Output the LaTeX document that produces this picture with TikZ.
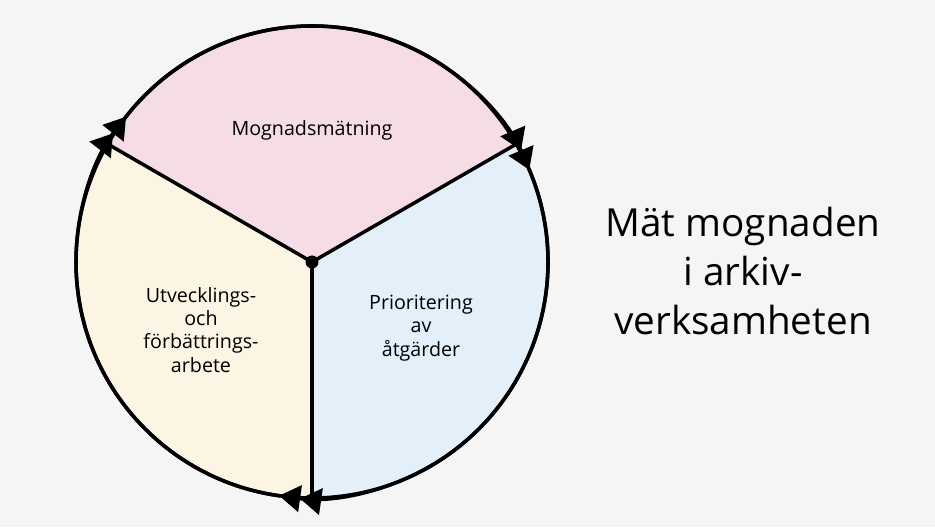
\documentclass[tikz,border=0pt]{standalone}
\usepackage{fontspec}
\setmainfont{Open Sans}
\usepackage{tikz}
\usetikzlibrary{arrows.meta,calc}
\definecolor{bakgrund}{HTML}{F5F5F5}
\definecolor{rosa}{HTML}{F6DDE5}
\definecolor{ljusbla}{HTML}{E3EFF9}
\definecolor{kram}{HTML}{FDF5E3}

\begin{document}
\begin{tikzpicture}[x=0.02cm,y=0.02cm,
  kant/.style={line width=2pt},
  pil/.style={kant,-{Triangle[length=12pt,width=15pt]Triangle[length=12pt,width=15pt]}},
  etikett/.style={align=center,font=\fontsize{11.2}{13.2}\selectfont}]
\useasboundingbox (0,0) rectangle (935,527);
\fill[bakgrund] (0,0) rectangle (935,527);
\def\r{236}
\coordinate (m) at (312,265);
\coordinate (a) at ($(m)+(150:\r)$);
\coordinate (b) at ($(m)+(30:\r)$);
\coordinate (c) at ($(m)+(270:\r)$);
% sektorer
\fill[rosa] (m) -- (a) arc[start angle=150,end angle=30,radius=\r] -- cycle;
\fill[ljusbla] (m) -- (b) arc[start angle=30,end angle=-90,radius=\r] -- cycle;
\fill[kram] (m) -- (c) arc[start angle=270,end angle=150,radius=\r] -- cycle;
\draw[kant] (m) circle[radius=\r];
\draw[kant] (m) -- (a);
\draw[kant] (m) -- (b);
\draw[kant] (m) -- (c);
\fill (m) circle[radius=6.5];
% pilar
\draw[pil] (c) arc[start angle=270,end angle=142,radius=\r];
\draw[pil] (a) arc[start angle=150,end angle=23,radius=\r];
\draw[pil] (b) arc[start angle=30,end angle=-98,radius=\r];
\node[etikett] (matning) at (312,397) {Mognadsmätning};
\node[etikett] (utveckling) at (201,197) {Utvecklings-\\och\\förbättrings-\\arbete};
\node[etikett] (prioritering) at (421,199) {Prioritering\\av\\åtgärder};
\node[align=center,font=\fontsize{22}{28}\selectfont] (rubrik) at (743,256) {Mät mognaden\\i arkiv-\\verksamheten};
\end{tikzpicture}
\end{document}
